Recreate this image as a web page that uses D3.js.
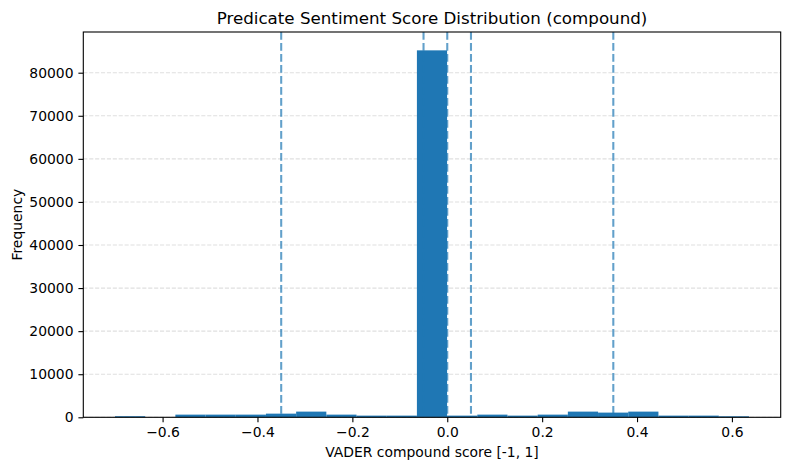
<!DOCTYPE html>
<html><head><meta charset="utf-8">
<script src="https://cdn.jsdelivr.net/npm/d3@7"></script>
<style>body{margin:0;background:#fff}svg{font-family:"DejaVu Sans",sans-serif}</style>
</head><body><svg id="c" width="790" height="470"></svg>
<script>
const binMin = -0.7003, binMax = 0.636;
const counts = [250, 0, 620, 620, 620, 850, 1320, 620, 390, 390, 85190, 390, 620, 390, 620, 1320, 1090, 1320, 390, 390, 230];
const refLines = [-0.35, -0.05, 0, 0.05, 0.35];
const xTicks = [-0.6, -0.4, -0.2, 0.0, 0.2, 0.4, 0.6];
const yTicks = [0, 10000, 20000, 30000, 40000, 50000, 60000, 70000, 80000];

const W = 790, H = 470, m = {l: 83.3, r: 9.3, t: 32, b: 52.7};
const svg = d3.select("#c");
const nb = counts.length, bw = (binMax - binMin) / nb;
const bins = counts.map((c, i) => ({x0: binMin + i * bw, x1: binMin + (i + 1) * bw, c}));
const span = binMax - binMin;
const x = d3.scaleLinear().domain([binMin - 0.05 * span, binMax + 0.05 * span]).range([m.l, W - m.r]);
const yMax = d3.max(counts) * 1.05;
const y = d3.scaleLinear().domain([0, yMax]).range([H - m.b, m.t]);

// grid
svg.append("g").selectAll("line").data(yTicks).join("line")
  .attr("x1", m.l).attr("x2", W - m.r).attr("y1", d => y(d)).attr("y2", d => y(d))
  .attr("stroke", "#b0b0b0").attr("stroke-opacity", 0.4).attr("stroke-width", 1.1)
  .attr("stroke-dasharray", "4.1,1.8");

// bars
svg.append("g").selectAll("rect").data(bins.filter(b => b.c > 0)).join("rect")
  .attr("x", d => x(d.x0)).attr("width", d => x(d.x1) - x(d.x0))
  .attr("y", d => y(d.c)).attr("height", d => y(0) - y(d.c))
  .attr("fill", "#1f77b4");

// reference lines
svg.append("g").selectAll("line").data(refLines).join("line")
  .attr("x1", d => x(d)).attr("x2", d => x(d)).attr("y1", m.t).attr("y2", H - m.b)
  .attr("stroke", "#1f77b4").attr("stroke-opacity", 0.7).attr("stroke-width", 2.08)
  .attr("stroke-dasharray", "7.7,3.3");

// axes
const fmtX = d => d3.format(".1f")(d).replace("-", "\u2212");
const gx = svg.append("g").attr("transform", `translate(0,${H - m.b})`)
  .call(d3.axisBottom(x).tickValues(xTicks).tickFormat(fmtX).tickSize(4.9).tickPadding(4.9));
const gy = svg.append("g").attr("transform", `translate(${m.l},0)`)
  .call(d3.axisLeft(y).tickValues(yTicks).tickFormat(d3.format("d")).tickSize(4.9).tickPadding(4.9));
[gx, gy].forEach(g => {
  g.select(".domain").remove();
  g.selectAll("line").attr("stroke", "#000").attr("stroke-width", 1.1);
  g.selectAll("text").attr("font-size", 13.9).attr("fill", "#000").attr("font-family", "DejaVu Sans");
});

// frame
svg.append("rect").attr("x", m.l).attr("y", m.t).attr("width", W - m.r - m.l).attr("height", H - m.b - m.t)
  .attr("fill", "none").attr("stroke", "#000").attr("stroke-width", 1.1);

svg.append("text").attr("x", (m.l + W - m.r) / 2).attr("y", 24).attr("text-anchor", "middle")
  .attr("font-size", 16.7).text("Predicate Sentiment Score Distribution (compound)");
svg.append("text").attr("x", (m.l + W - m.r) / 2).attr("y", 457).attr("text-anchor", "middle")
  .attr("font-size", 13.9).text("VADER compound score [-1, 1]");
svg.append("text").attr("transform", `translate(22,${(m.t + H - m.b) / 2}) rotate(-90)`).attr("text-anchor", "middle")
  .attr("font-size", 13.9).text("Frequency");
</script></body></html>
